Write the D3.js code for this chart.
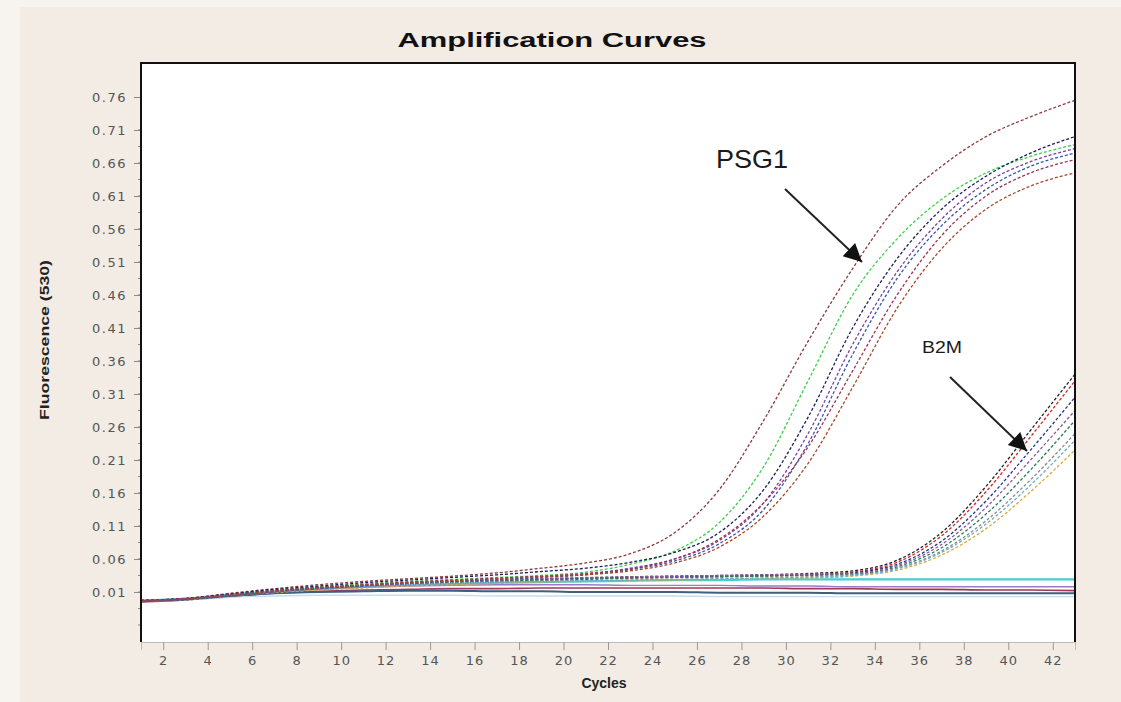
<!DOCTYPE html>
<html>
<head>
<meta charset="utf-8">
<script src="https://cdn.jsdelivr.net/npm/d3@7"></script>
<style>
  html, body { margin: 0; padding: 0; background: #fff; }
  svg { display: block; }
</style>
</head>
<body>
<svg id="chart" width="1121" height="702"></svg>
<script>
const cycles = [1, 3, 5, 7, 9, 11, 13, 15, 17, 19, 21, 23, 25, 27, 29, 31, 33, 35, 37, 39, 41, 43];

// PSG1 amplification curves
const psg1 = [
  [-0.004, 0.000, 0.008, 0.015, 0.021, 0.026, 0.030, 0.034, 0.039, 0.046, 0.054, 0.068, 0.100, 0.165, 0.270, 0.390, 0.500, 0.595, 0.655, 0.700, 0.730, 0.755],
  [-0.004, -0.001, 0.006, 0.012, 0.018, 0.022, 0.026, 0.029, 0.032, 0.035, 0.040, 0.052, 0.072, 0.115, 0.200, 0.330, 0.460, 0.545, 0.605, 0.645, 0.670, 0.688],
  [-0.003, 0.000, 0.007, 0.014, 0.019, 0.024, 0.028, 0.032, 0.036, 0.041, 0.046, 0.055, 0.070, 0.100, 0.165, 0.275, 0.410, 0.515, 0.590, 0.640, 0.675, 0.700],
  [-0.003, -0.001, 0.005, 0.011, 0.016, 0.020, 0.024, 0.027, 0.030, 0.033, 0.037, 0.046, 0.060, 0.088, 0.145, 0.250, 0.385, 0.495, 0.575, 0.630, 0.662, 0.682],
  [-0.004, -0.002, 0.004, 0.010, 0.015, 0.019, 0.023, 0.026, 0.029, 0.032, 0.036, 0.044, 0.057, 0.083, 0.135, 0.235, 0.370, 0.485, 0.565, 0.620, 0.655, 0.675],
  [-0.003, 0.000, 0.006, 0.012, 0.017, 0.021, 0.025, 0.028, 0.031, 0.034, 0.038, 0.045, 0.060, 0.090, 0.145, 0.230, 0.345, 0.460, 0.550, 0.610, 0.645, 0.665],
  [-0.004, -0.001, 0.005, 0.011, 0.016, 0.020, 0.024, 0.027, 0.030, 0.033, 0.036, 0.042, 0.054, 0.078, 0.125, 0.205, 0.320, 0.440, 0.530, 0.590, 0.625, 0.645]
];
const psg1Colors = ["#8e3b3b", "#3ccf4a", "#1d1f5c", "#7b3fa3", "#3556ad", "#9a3358", "#a8482a"];

// B2M amplification curves
const b2m = [
  [-0.003, 0.000, 0.006, 0.012, 0.016, 0.019, 0.022, 0.025, 0.027, 0.029, 0.031, 0.033, 0.034, 0.035, 0.036, 0.038, 0.042, 0.058, 0.100, 0.170, 0.255, 0.340],
  [-0.004, -0.001, 0.005, 0.011, 0.015, 0.018, 0.021, 0.023, 0.025, 0.027, 0.029, 0.031, 0.032, 0.033, 0.034, 0.036, 0.040, 0.055, 0.095, 0.162, 0.245, 0.330],
  [-0.003, 0.000, 0.006, 0.012, 0.017, 0.021, 0.024, 0.026, 0.028, 0.030, 0.031, 0.032, 0.033, 0.034, 0.035, 0.036, 0.039, 0.052, 0.087, 0.148, 0.225, 0.305],
  [-0.004, -0.001, 0.005, 0.010, 0.014, 0.018, 0.021, 0.024, 0.026, 0.028, 0.030, 0.031, 0.032, 0.033, 0.034, 0.035, 0.037, 0.048, 0.077, 0.128, 0.195, 0.270],
  [-0.003, 0.000, 0.005, 0.010, 0.014, 0.017, 0.020, 0.022, 0.024, 0.026, 0.027, 0.028, 0.029, 0.030, 0.031, 0.033, 0.036, 0.046, 0.072, 0.118, 0.180, 0.250],
  [-0.004, -0.002, 0.004, 0.009, 0.013, 0.016, 0.019, 0.021, 0.023, 0.025, 0.026, 0.027, 0.028, 0.029, 0.030, 0.031, 0.034, 0.043, 0.066, 0.106, 0.162, 0.225],
  [-0.003, 0.000, 0.006, 0.011, 0.015, 0.018, 0.021, 0.023, 0.025, 0.026, 0.027, 0.028, 0.029, 0.030, 0.031, 0.032, 0.035, 0.045, 0.070, 0.113, 0.172, 0.240],
  [-0.004, -0.001, 0.005, 0.011, 0.016, 0.020, 0.023, 0.026, 0.028, 0.030, 0.032, 0.033, 0.034, 0.035, 0.036, 0.037, 0.038, 0.050, 0.082, 0.138, 0.210, 0.285]
];
const b2mColors = ["#222222", "#d8262a", "#24358a", "#2b7d5c", "#8a8a8a", "#dba93a", "#68aed0", "#8a5a9c"];

// flat (no amplification) traces
const controls = [
  [-0.003, 0.000, 0.006, 0.011, 0.015, 0.018, 0.020, 0.022, 0.024, 0.025, 0.026, 0.027, 0.028, 0.028, 0.029, 0.029, 0.029, 0.029, 0.029, 0.029, 0.029, 0.029],
  [-0.005, -0.002, 0.003, 0.008, 0.011, 0.013, 0.014, 0.015, 0.015, 0.016, 0.016, 0.016, 0.016, 0.016, 0.016, 0.015, 0.015, 0.014, 0.014, 0.013, 0.013, 0.012],
  [-0.003, 0.000, 0.005, 0.010, 0.014, 0.017, 0.019, 0.020, 0.021, 0.021, 0.021, 0.020, 0.020, 0.020, 0.019, 0.019, 0.018, 0.018, 0.018, 0.018, 0.018, 0.018],
  [-0.004, -0.002, 0.002, 0.004, 0.005, 0.005, 0.005, 0.005, 0.004, 0.004, 0.004, 0.004, 0.004, 0.003, 0.003, 0.003, 0.003, 0.003, 0.003, 0.003, 0.003, 0.003],
  [-0.004, -0.001, 0.004, 0.008, 0.010, 0.011, 0.012, 0.012, 0.011, 0.011, 0.010, 0.010, 0.010, 0.009, 0.009, 0.009, 0.008, 0.008, 0.008, 0.008, 0.008, 0.008]
];
const controlColors = ["#3fd0d6", "#a0385a", "#9c7ac8", "#c8dcef", "#3d5f80"];
const controlWidths = [2.2, 1.6, 1.4, 1.4, 2];

const yTicks = [0.01, 0.06, 0.11, 0.16, 0.21, 0.26, 0.31, 0.36, 0.41, 0.46, 0.51, 0.56, 0.61, 0.66, 0.71, 0.76];
const xTicks = [2, 4, 6, 8, 10, 12, 14, 16, 18, 20, 22, 24, 26, 28, 30, 32, 34, 36, 38, 40, 42];

const width = 1121, height = 702;
const plot = { left: 141, top: 63, right: 1075, bottom: 642 };

const svg = d3.select("#chart");

// beige panel
svg.append("rect").attr("width", width).attr("height", height).attr("fill", "#f7f3ee");
svg.append("rect").attr("x", 20).attr("y", 7).attr("width", width - 20).attr("height", height - 7).attr("fill", "#f2ece5");

const x = d3.scaleLinear().domain([1, 43]).range([plot.left, plot.right]);
const y = d3.scaleLinear().domain([-0.0658, 0.8115]).range([plot.bottom, plot.top]);

svg.append("rect")
  .attr("x", plot.left).attr("y", plot.top)
  .attr("width", plot.right - plot.left).attr("height", plot.bottom - plot.top)
  .attr("fill", "#ffffff");

svg.append("defs").append("clipPath").attr("id", "clip")
  .append("rect")
  .attr("x", plot.left).attr("y", plot.top)
  .attr("width", plot.right - plot.left).attr("height", plot.bottom - plot.top);

// minor y ticks
svg.append("g")
  .selectAll("line")
  .data(d3.range(0, 31).map(i => -0.04 + i * 0.025))
  .join("line")
  .attr("x1", plot.left - 3).attr("x2", plot.left)
  .attr("y1", d => y(d)).attr("y2", d => y(d))
  .attr("stroke", "#888");

const yAxis = svg.append("g")
  .attr("transform", `translate(${plot.left},0)`)
  .call(d3.axisLeft(y).tickValues(yTicks).tickSize(7).tickPadding(7).tickFormat(d3.format(".2f")));
yAxis.select(".domain").remove();
yAxis.selectAll(".tick line").attr("stroke", "#888");
yAxis.selectAll("text")
  .attr("fill", "#555")
  .style("font-family", "'DejaVu Sans', sans-serif")
  .style("font-size", "13px")
  .style("letter-spacing", "1.5px");

const xAxis = svg.append("g")
  .attr("transform", `translate(0,${plot.bottom})`)
  .call(d3.axisBottom(x).tickValues(xTicks).tickSize(8).tickPadding(6));
xAxis.select(".domain").attr("stroke", "#bbb");
xAxis.selectAll(".tick line").attr("stroke", "#999");
xAxis.selectAll("text")
  .attr("fill", "#555")
  .style("font-family", "'DejaVu Sans', sans-serif")
  .style("font-size", "13px")
  .style("letter-spacing", "1px");

const line = d3.line()
  .x((d, i) => x(cycles[i]))
  .y(d => y(d))
  .curve(d3.curveMonotoneX);

const curves = svg.append("g").attr("clip-path", "url(#clip)");

curves.selectAll(".control")
  .data(controls)
  .join("path")
  .attr("class", "control")
  .attr("d", line)
  .attr("fill", "none")
  .attr("stroke", (d, i) => controlColors[i])
  .attr("stroke-width", (d, i) => controlWidths[i]);

curves.selectAll(".b2m")
  .data(b2m)
  .join("path")
  .attr("class", "b2m")
  .attr("d", line)
  .attr("fill", "none")
  .attr("stroke", (d, i) => b2mColors[i])
  .attr("stroke-width", 1.3)
  .attr("stroke-dasharray", "3,2");

curves.selectAll(".psg1")
  .data(psg1)
  .join("path")
  .attr("class", "psg1")
  .attr("d", line)
  .attr("fill", "none")
  .attr("stroke", (d, i) => psg1Colors[i])
  .attr("stroke-width", 1.3)
  .attr("stroke-dasharray", "3,2");

// frame
svg.append("path")
  .attr("d", `M${plot.left},${plot.bottom} V${plot.top} H${plot.right} V${plot.bottom}`)
  .attr("fill", "none")
  .attr("stroke", "#111")
  .attr("stroke-width", 2);

// titles
svg.append("text")
  .text("Amplification Curves")
  .attr("x", 552).attr("y", 47)
  .attr("text-anchor", "middle")
  .attr("textLength", 309)
  .attr("lengthAdjust", "spacingAndGlyphs")
  .attr("fill", "#111")
  .style("font-family", "'Liberation Sans', Arial, sans-serif")
  .style("font-weight", "bold")
  .style("font-size", "20px");

svg.append("text")
  .text("Fluorescence (530)")
  .attr("transform", "translate(49,340) rotate(-90)")
  .attr("text-anchor", "middle")
  .attr("textLength", 160)
  .attr("lengthAdjust", "spacingAndGlyphs")
  .attr("fill", "#222")
  .style("font-family", "'Liberation Sans', Arial, sans-serif")
  .style("font-weight", "bold")
  .style("font-size", "13px");

svg.append("text")
  .text("Cycles")
  .attr("x", 604).attr("y", 688)
  .attr("text-anchor", "middle")
  .attr("fill", "#222")
  .style("font-family", "'Liberation Sans', Arial, sans-serif")
  .style("font-weight", "bold")
  .style("font-size", "14px");

// annotations
const defs = svg.select("defs");
defs.append("marker")
  .attr("id", "head")
  .attr("viewBox", "0 -5 10 10")
  .attr("refX", 10)
  .attr("markerUnits", "userSpaceOnUse")
  .attr("markerWidth", 20)
  .attr("markerHeight", 18)
  .attr("orient", "auto")
  .append("path")
  .attr("d", "M0,-5 L10,0 L0,5 Z")
  .attr("fill", "#111");

const notes = [
  { label: "PSG1", tx: 716, ty: 168, size: 25, len: 72, from: [785, 189], to: [862, 262] },
  { label: "B2M", tx: 922, ty: 353, size: 17, len: 40, from: [950, 377], to: [1027, 451] }
];

notes.forEach(n => {
  svg.append("text")
    .text(n.label)
    .attr("x", n.tx).attr("y", n.ty)
    .attr("textLength", n.len)
    .attr("lengthAdjust", "spacingAndGlyphs")
    .attr("fill", "#1a1a1a")
    .style("font-family", "'Liberation Sans', Arial, sans-serif")
    .style("font-size", `${n.size}px`);
  svg.append("line")
    .attr("x1", n.from[0]).attr("y1", n.from[1])
    .attr("x2", n.to[0]).attr("y2", n.to[1])
    .attr("stroke", "#222")
    .attr("stroke-width", 2)
    .attr("marker-end", "url(#head)");
});
</script>
</body>
</html>
